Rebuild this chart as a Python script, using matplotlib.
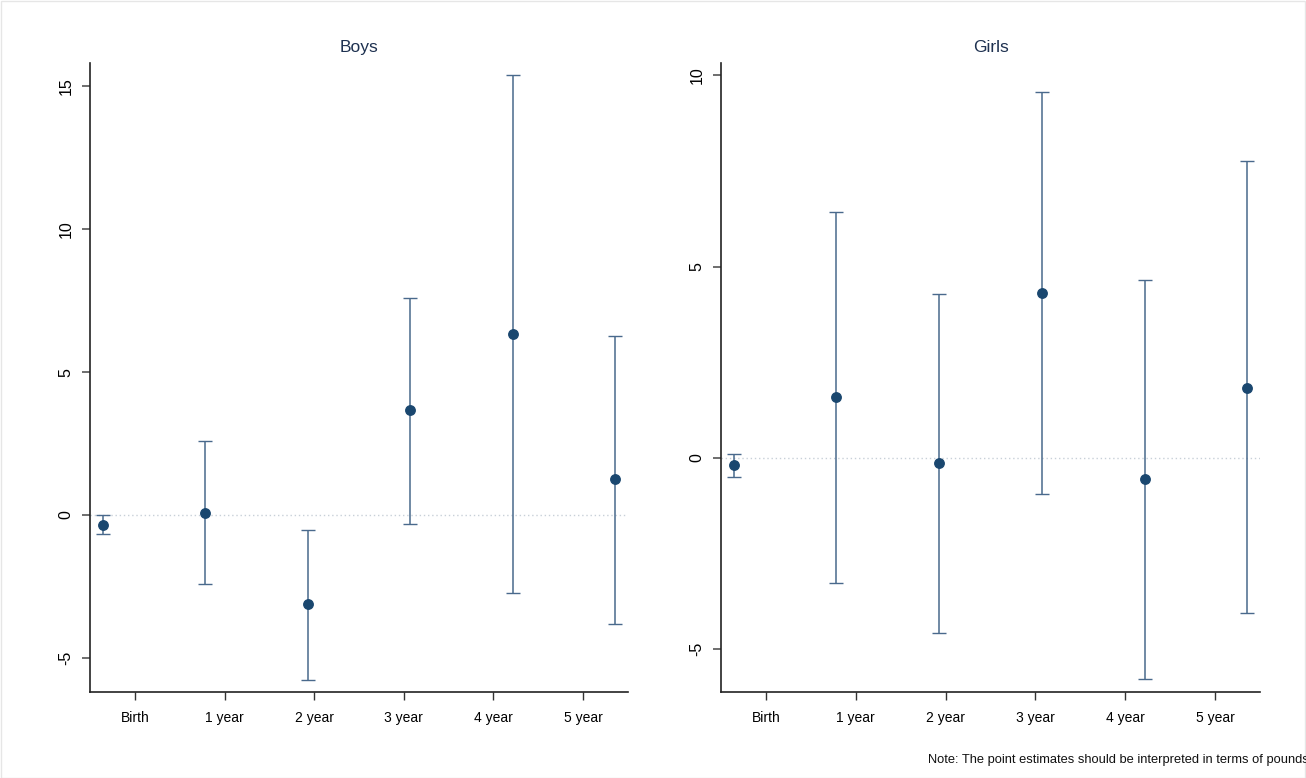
import matplotlib
matplotlib.use("Agg")
import matplotlib.pyplot as plt
from matplotlib.patches import Rectangle

plt.rcParams['font.family'] = ['Liberation Sans', 'DejaVu Sans']

categories = ["Birth", "1 year", "2 year", "3 year", "4 year", "5 year"]
tick_pos = [1, 2, 3, 4, 5, 6]
point_pos = [0.64, 1.78, 2.93, 4.07, 5.22, 6.36]

boys_est = [-0.35, 0.07, -3.12, 3.68, 6.34, 1.26]
boys_lo = [-0.68, -2.42, -5.78, -0.32, -2.73, -3.82]
boys_hi = [-0.01, 2.57, -0.53, 7.60, 15.41, 6.27]

girls_est = [-0.18, 1.60, -0.13, 4.31, -0.55, 1.83]
girls_lo = [-0.49, -3.27, -4.57, -0.94, -5.79, -4.05]
girls_hi = [0.11, 6.43, 4.29, 9.57, 4.66, 7.77]

W, H = 1306, 778
fig = plt.figure(figsize=(W / 100, H / 100), dpi=100)
fig.patch.set_facecolor("white")
fig.add_artist(Rectangle((0.5 / W, 0.5 / H), 1 - 1.5 / W, 1 - 1.5 / H, transform=fig.transFigure,
                         fill=False, edgecolor="#e6e6e6", linewidth=1))

def make_ax(left, right, top, bottom):
    return fig.add_axes([left / W, 1 - bottom / H, (right - left) / W, (bottom - top) / H])

ax1 = make_ax(90, 628, 63, 692)
ax2 = make_ax(721, 1260, 63, 692)

marker_col = "#1a476f"
bar_col = "#49698c"

panels = [
    (ax1, "Boys", boys_est, boys_lo, boys_hi, (-6.2, 15.82), [-5, 0, 5, 10, 15]),
    (ax2, "Girls", girls_est, girls_lo, girls_hi, (-6.12, 10.32), [-5, 0, 5, 10]),
]

for ax, title, est, lo, hi, ylim, yticks in panels:
    ax.axhline(0, color="#c8d0d8", linestyle=(0, (1, 2)), linewidth=1, zorder=1)
    yerr = [[e - l for e, l in zip(est, lo)], [h - e for e, h in zip(est, hi)]]
    ax.errorbar(point_pos, est, yerr=yerr, fmt="o", color=marker_col, ecolor=bar_col,
                elinewidth=1.1, capsize=5, capthick=1.0, markersize=6.8, zorder=3)
    ax.set_xlim(0.5, 6.5)
    ax.set_ylim(*ylim)
    ax.set_xticks(tick_pos)
    ax.set_xticklabels(categories, fontsize=10)
    ax.set_yticks(yticks)
    ax.set_yticklabels([str(v) for v in yticks], rotation=90, va="center", fontsize=11.5)
    ax.tick_params(axis="x", direction="out", length=6, width=1, color="#333333", pad=8)
    ax.tick_params(axis="y", direction="out", length=6, width=1.2, color="#555555", pad=6)
    for s in ["top", "right"]:
        ax.spines[s].set_visible(False)
    for s in ["left", "bottom"]:
        ax.spines[s].set_linewidth(1.2)
        ax.spines[s].set_color("#222222")
    ax.set_title(title, fontsize=12.5, color="#1e3150", pad=8)

fig.text(928 / W, 1 - 760 / H, "Note: The point estimates should be interpreted in terms of pounds",
         fontsize=9.3, ha="left", va="center", color="#111111")

fig.savefig("out.png", dpi=100, facecolor="white")
